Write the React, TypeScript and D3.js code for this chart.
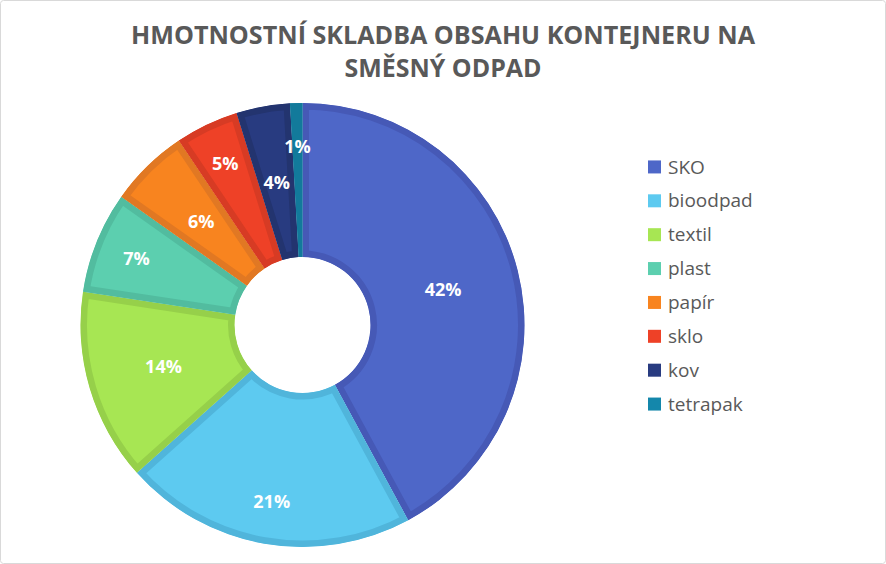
import React from "react";
import * as d3 from "d3";

const categories = ["SKO", "bioodpad", "textil", "plast", "papír", "sklo", "kov", "tetrapak"];
const values = [42.1, 21.3, 14.0, 7.4, 5.8, 4.6, 3.9, 0.9];
const fills = ["#4E67C8", "#5DCAF0", "#A7E653", "#5CCFAF", "#F8841F", "#EE4127", "#283B80", "#1487AB"];
const borders = ["#4659B6", "#50B5DB", "#96D04A", "#52BC9F", "#E17823", "#D73B24", "#23346F", "#127A9B"];
const outerLabels = ["bioodpad", "plast", "sklo", "tetrapak"];
const titleLines = ["HMOTNOSTNÍ SKLADBA OBSAHU KONTEJNERU NA", "SMĚSNÝ ODPAD"];

const W = 886;
const H = 564;
const cx = 302.5;
const cy = 325;
const R = 222;
const r0 = 68;

export default function App() {
  const pie = d3.pie<number>().sort(null).value((d) => d);
  const arcs = pie(values);
  const arcGen = d3.arc<d3.PieArcDatum<number>>().innerRadius(r0).outerRadius(R);
  const total = d3.sum(values);

  const legendY = d3.scaleBand<string>().domain(categories).range([150, 421]);

  return (
    <svg
      width={W}
      height={H}
      style={{ position: "absolute", left: 0, top: 0, background: "#fff" }}
    >
      <rect x={0.5} y={0.5} width={W - 1} height={H - 1} fill="#fff" stroke="#d9d9d9" rx={3} />
      <defs>
        {arcs.map((a, i) => (
          <clipPath id={`clip${i}`} key={i}>
            <path d={arcGen(a) || ""} transform={`translate(${cx},${cy})`} />
          </clipPath>
        ))}
      </defs>
      <text
        x={443}
        y={44}
        textAnchor="middle"
        fontFamily="Open Sans, Liberation Sans, Arial, sans-serif"
        fontWeight="bold"
        fontSize={25}
        fill="#595959"
        textLength={624}
        lengthAdjust="spacingAndGlyphs"
      >
        {titleLines[0]}
      </text>
      <text
        x={443}
        y={77}
        textAnchor="middle"
        fontFamily="Open Sans, Liberation Sans, Arial, sans-serif"
        fontWeight="bold"
        fontSize={25}
        fill="#595959"
        textLength={197}
        lengthAdjust="spacingAndGlyphs"
      >
        {titleLines[1]}
      </text>
      {arcs.map((a, i) => (
        <g key={i} clipPath={`url(#clip${i})`}>
          <path
            d={arcGen(a) || ""}
            transform={`translate(${cx},${cy})`}
            fill={fills[i]}
            stroke={borders[i]}
            strokeWidth={13}
          />
        </g>
      ))}
      {arcs.map((a, i) => {
        const mid = (a.startAngle + a.endAngle) / 2;
        const lr = outerLabels.includes(categories[i]) ? 179 : 145;
        const x = cx + lr * Math.sin(mid);
        const y = cy - lr * Math.cos(mid);
        return (
          <text
            key={i}
            x={x}
            y={y}
            dy="0.36em"
            textAnchor="middle"
            fontFamily="Open Sans, Liberation Sans, sans-serif"
            fontWeight="bold"
            fontSize={18}
            fill="#ffffff"
          >
            {`${Math.round((values[i] / total) * 100)}%`}
          </text>
        );
      })}
      {categories.map((c, i) => {
        const y = (legendY(c) || 0) + legendY.bandwidth() / 2;
        return (
          <g key={c}>
            <rect x={648} y={y - 6.5} width={13} height={13} fill={fills[i]} />
            <text
              x={668}
              y={y}
              dy="0.35em"
              fontFamily="Open Sans, Liberation Sans, sans-serif"
              fontSize={19}
              fill="#595959"
            >
              {c}
            </text>
          </g>
        );
      })}
    </svg>
  );
}
